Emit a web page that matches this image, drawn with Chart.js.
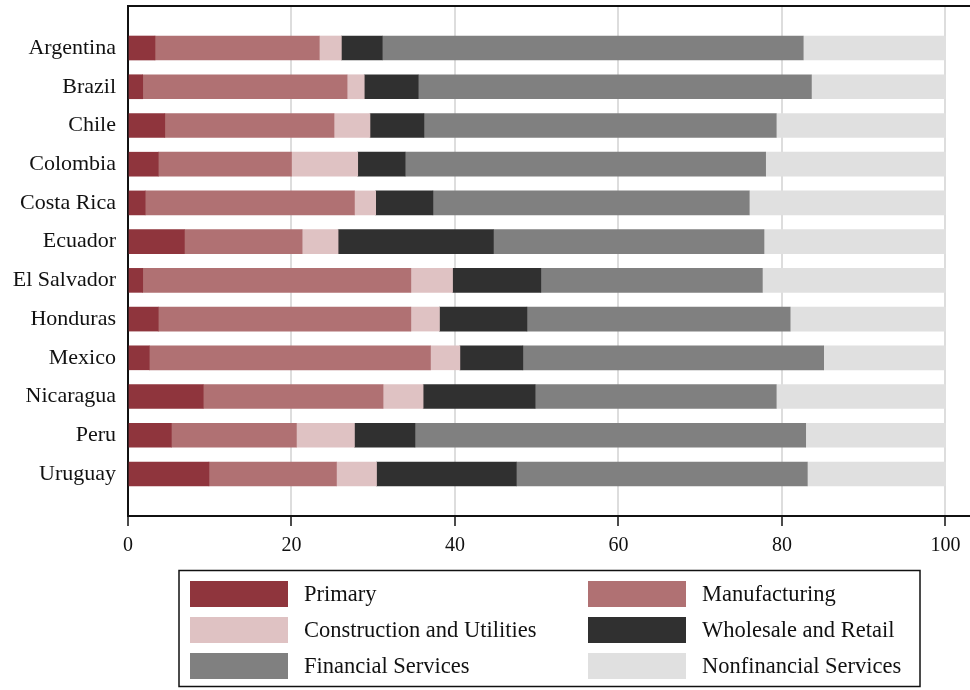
<!DOCTYPE html>
<html>
<head>
<meta charset="utf-8">
<script src="https://cdn.jsdelivr.net/npm/chart.js@4"></script>
<style>
  html, body { margin: 0; padding: 0; background: #fff; }
  #chart { display: block; }
</style>
</head>
<body>
<canvas id="chart" width="970" height="690"></canvas>
<script>
// Data (shares of total, %)
const countries = ["Argentina", "Brazil", "Chile", "Colombia", "Costa Rica", "Ecuador",
  "El Salvador", "Honduras", "Mexico", "Nicaragua", "Peru", "Uruguay"];
const sectors = ["Primary", "Manufacturing", "Construction and Utilities",
  "Wholesale and Retail", "Financial Services", "Nonfinancial Services"];
const primary       = [3.3, 1.8, 4.5, 3.7, 2.1, 6.9, 1.8, 3.7, 2.6, 9.2, 5.3, 9.9];
const manufacturing = [20.1, 25.0, 20.7, 16.3, 25.6, 14.4, 32.8, 30.9, 34.4, 22.0, 15.3, 15.6];
const construction  = [2.7, 2.1, 4.4, 8.1, 2.6, 4.4, 5.1, 3.5, 3.6, 4.9, 7.1, 4.9];
const wholesale     = [5.0, 6.6, 6.6, 5.8, 7.0, 19.0, 10.8, 10.7, 7.7, 13.7, 7.4, 17.1];
const financial     = [51.5, 48.1, 43.1, 44.1, 38.7, 33.1, 27.1, 32.2, 36.8, 29.5, 47.8, 35.6];
const nonfinancial  = [17.4, 16.4, 20.7, 22.0, 24.0, 22.2, 22.4, 19.0, 14.9, 20.7, 17.1, 16.9];
const xTicks = [0, 20, 40, 60, 80, 100];

const series = [primary, manufacturing, construction, wholesale, financial, nonfinancial];
const colors = ["#8f353d", "#b07173", "#dfc2c3", "#303030", "#808080", "#e0e0e0"];
const serif = "'Liberation Serif', 'Times New Roman', serif";

// legend drawn as a boxed 2-column grid below the axes
const boxLegend = {
  id: "boxLegend",
  afterDraw(chart) {
    const ctx = chart.ctx;
    ctx.save();
    // top frame line of the axes
    ctx.strokeStyle = "#111";
    ctx.lineWidth = 2;
    ctx.beginPath();
    ctx.moveTo(chart.chartArea.left, chart.chartArea.top);
    ctx.lineTo(chart.width, chart.chartArea.top);
    ctx.stroke();

    ctx.lineWidth = 1.5;
    ctx.strokeRect(179, 570.5, 741, 116);
    ctx.font = "22.5px " + serif;
    ctx.textBaseline = "middle";
    chart.data.datasets.forEach((ds, i) => {
      const col = i % 2, row = Math.floor(i / 2);
      const sx = col ? 588 : 190;
      const cy = 594 + row * 36;
      ctx.fillStyle = ds.backgroundColor;
      ctx.fillRect(sx, cy - 13, 98, 26);
      ctx.fillStyle = "#111";
      ctx.fillText(ds.label, sx + 114, cy + 1);
    });
    ctx.restore();
  }
};

new Chart(document.getElementById("chart"), {
  type: "bar",
  data: {
    datasets: sectors.map((s, i) => ({
      label: s,
      data: series[i].map((v, j) => ({ x: v, y: j })),
      backgroundColor: colors[i],
      borderWidth: 0,
      barThickness: 24
    }))
  },
  options: {
    indexAxis: "y",
    responsive: false,
    animation: false,
    layout: { padding: { top: 6, right: 0, left: 0, bottom: 124 } },
    plugins: { legend: { display: false }, tooltip: { enabled: false } },
    scales: {
      x: {
        type: "linear",
        stacked: true,
        offset: false,
        min: 0,
        max: 103,
        bounds: "data",
        afterBuildTicks: (sc) => { sc.ticks = xTicks.map(v => ({ value: v })); },
        afterFit: (sc) => { sc.paddingLeft = 0; sc.paddingRight = 0; },
        grid: { color: "#dddddd", lineWidth: 2, tickColor: "#111", tickLength: 10, tickWidth: 1.5 },
        border: { color: "#111", width: 2 },
        ticks: { color: "#111", font: { family: serif, size: 20 }, padding: 8, maxRotation: 0 }
      },
      y: {
        type: "linear",
        stacked: true,
        offset: false,
        reverse: true,
        min: -1.085,
        max: 12.085,
        bounds: "data",
        afterBuildTicks: (sc) => { sc.ticks = countries.map((c, i) => ({ value: i })); },
        afterFit: (sc) => { sc.width = 128; sc.paddingTop = 0; sc.paddingBottom = 0; },
        grid: { display: false, drawTicks: false },
        border: { color: "#111", width: 2 },
        ticks: {
          color: "#111",
          font: { family: serif, size: 22 },
          padding: 12,
          autoSkip: false,
          callback: (v) => countries[v]
        }
      }
    }
  },
  plugins: [boxLegend]
});
</script>
</body>
</html>
